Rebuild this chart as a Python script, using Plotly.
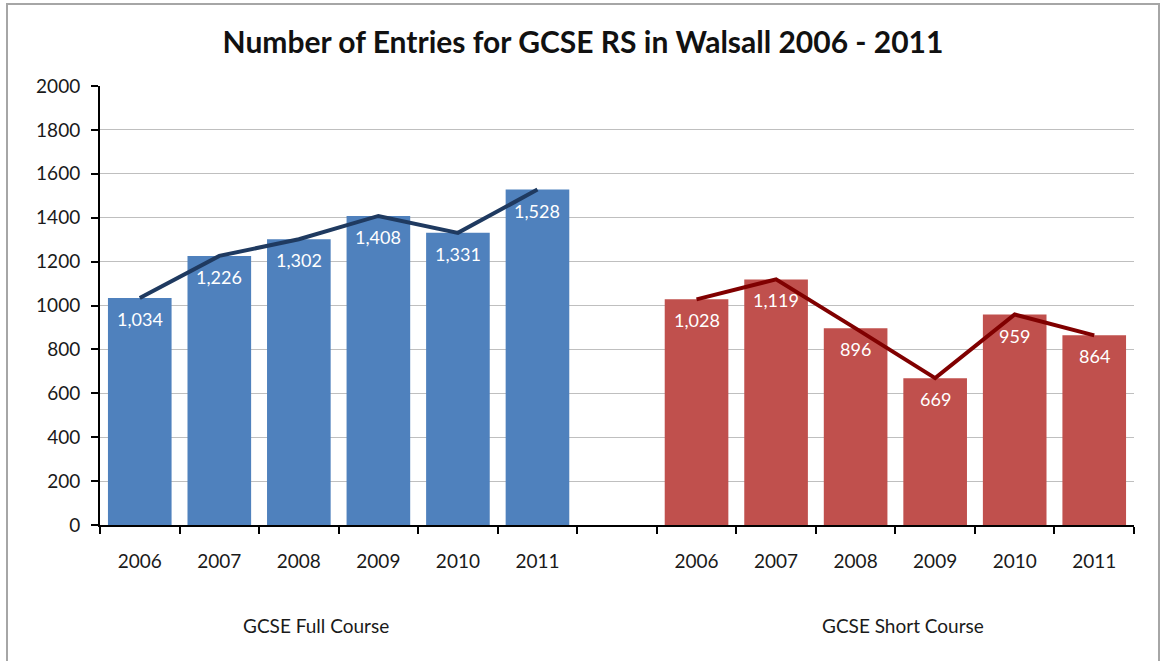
import plotly.graph_objects as go

# ---- data ----
years = ["2006", "2007", "2008", "2009", "2010", "2011"]
full_course = [1034, 1226, 1302, 1408, 1331, 1528]
short_course = [1028, 1119, 896, 669, 959, 864]
group_labels = ["GCSE Full Course", "GCSE Short Course"]
title_text = "Number of Entries for GCSE RS in Walsall 2006 - 2011"
y_ticks = [0, 200, 400, 600, 800, 1000, 1200, 1400, 1600, 1800, 2000]

full_cats = ["F" + y for y in years]
short_cats = ["S" + y for y in years]
gap_cat = ["gap"]
all_cats = full_cats + gap_cat + short_cats
all_text = years + [""] + years

FONT = "Lato, 'Open Sans', sans-serif"
BLUE = "#4F81BD"
RED = "#C0504D"
NAVY = "#1F3A60"
DARKRED = "#800000"

W, H = 1161, 661
PL, PR, PT, PB = 100, 1134, 86, 525  # plot area in pixels
L, R, T, B = PL, W - PR, PT, H - PB
pw, ph = PR - PL, PB - PT

def px_x(x):
    return (x - PL) / pw

def px_y(y):
    return (PB - y) / ph

fig = go.Figure()
fig.add_trace(go.Bar(x=full_cats, y=full_course, marker=dict(color=BLUE, line=dict(width=0)),
                     showlegend=False, hoverinfo="x+y"))
fig.add_trace(go.Bar(x=short_cats, y=short_course, marker=dict(color=RED, line=dict(width=0)),
                     showlegend=False, hoverinfo="x+y"))
fig.add_trace(go.Scatter(x=full_cats, y=full_course, mode="lines",
                         line=dict(color=NAVY, width=4), showlegend=False))
fig.add_trace(go.Scatter(x=short_cats, y=short_course, mode="lines",
                         line=dict(color=DARKRED, width=4), showlegend=False))

annotations = []
for cats, vals in ((full_cats, full_course), (short_cats, short_course)):
    for c, v in zip(cats, vals):
        annotations.append(dict(x=c, y=v, xref="x", yref="y", text=f"{v:,}",
                                showarrow=False, xanchor="center", yanchor="middle",
                                yshift=-21,
                                font=dict(family=FONT, size=18, color="white")))

for label, cx in zip(group_labels, (316, 903)):
    annotations.append(dict(x=px_x(cx), y=px_y(625), xref="paper", yref="paper",
                            text=label, showarrow=False,
                            xanchor="center", yanchor="middle",
                            font=dict(family=FONT, size=19, color="#1a1a1a")))

fig.update_layout(
    width=W, height=H,
    margin=dict(l=L, r=R, t=T, b=B, autoexpand=False),
    paper_bgcolor="white", plot_bgcolor="white",
    barmode="overlay", bargap=0.2,
    title=dict(text=f"<b>{title_text}</b>", x=583 / W, xanchor="center",
               y=1 - 42 / H, yanchor="middle", yref="container",
               font=dict(family=FONT, size=30, color="#111111")),
    annotations=annotations,
    shapes=[dict(type="rect", xref="paper", yref="paper",
                 x0=px_x(7), x1=px_x(1159), y0=px_y(700), y1=px_y(4),
                 line=dict(color="#A6A6A6", width=2), layer="below")],
    xaxis=dict(type="category", categoryorder="array", categoryarray=all_cats,
               tickvals=all_cats, ticktext=all_text, tickson="boundaries",
               ticks="outside", ticklen=7, tickwidth=2, tickcolor="black",
               showline=True, linewidth=2, linecolor="black", showgrid=False,
               range=[-0.5, len(all_cats) - 0.5],
               ticklabelstandoff=18,
               tickfont=dict(family=FONT, size=19, color="#1a1a1a")),
    yaxis=dict(range=[0, 2000], tickvals=y_ticks, ticks="outside", ticklen=7,
               tickwidth=2, tickcolor="black", showline=True, linewidth=2,
               linecolor="black", showgrid=True, gridcolor="#BFBFBF", gridwidth=1,
               zeroline=False, ticklabelstandoff=7,
               tickfont=dict(family=FONT, size=19, color="#1a1a1a")),
)

fig.write_html("out.html", config={"displayModeBar": False},
               post_script="document.body.style.margin='0';")
